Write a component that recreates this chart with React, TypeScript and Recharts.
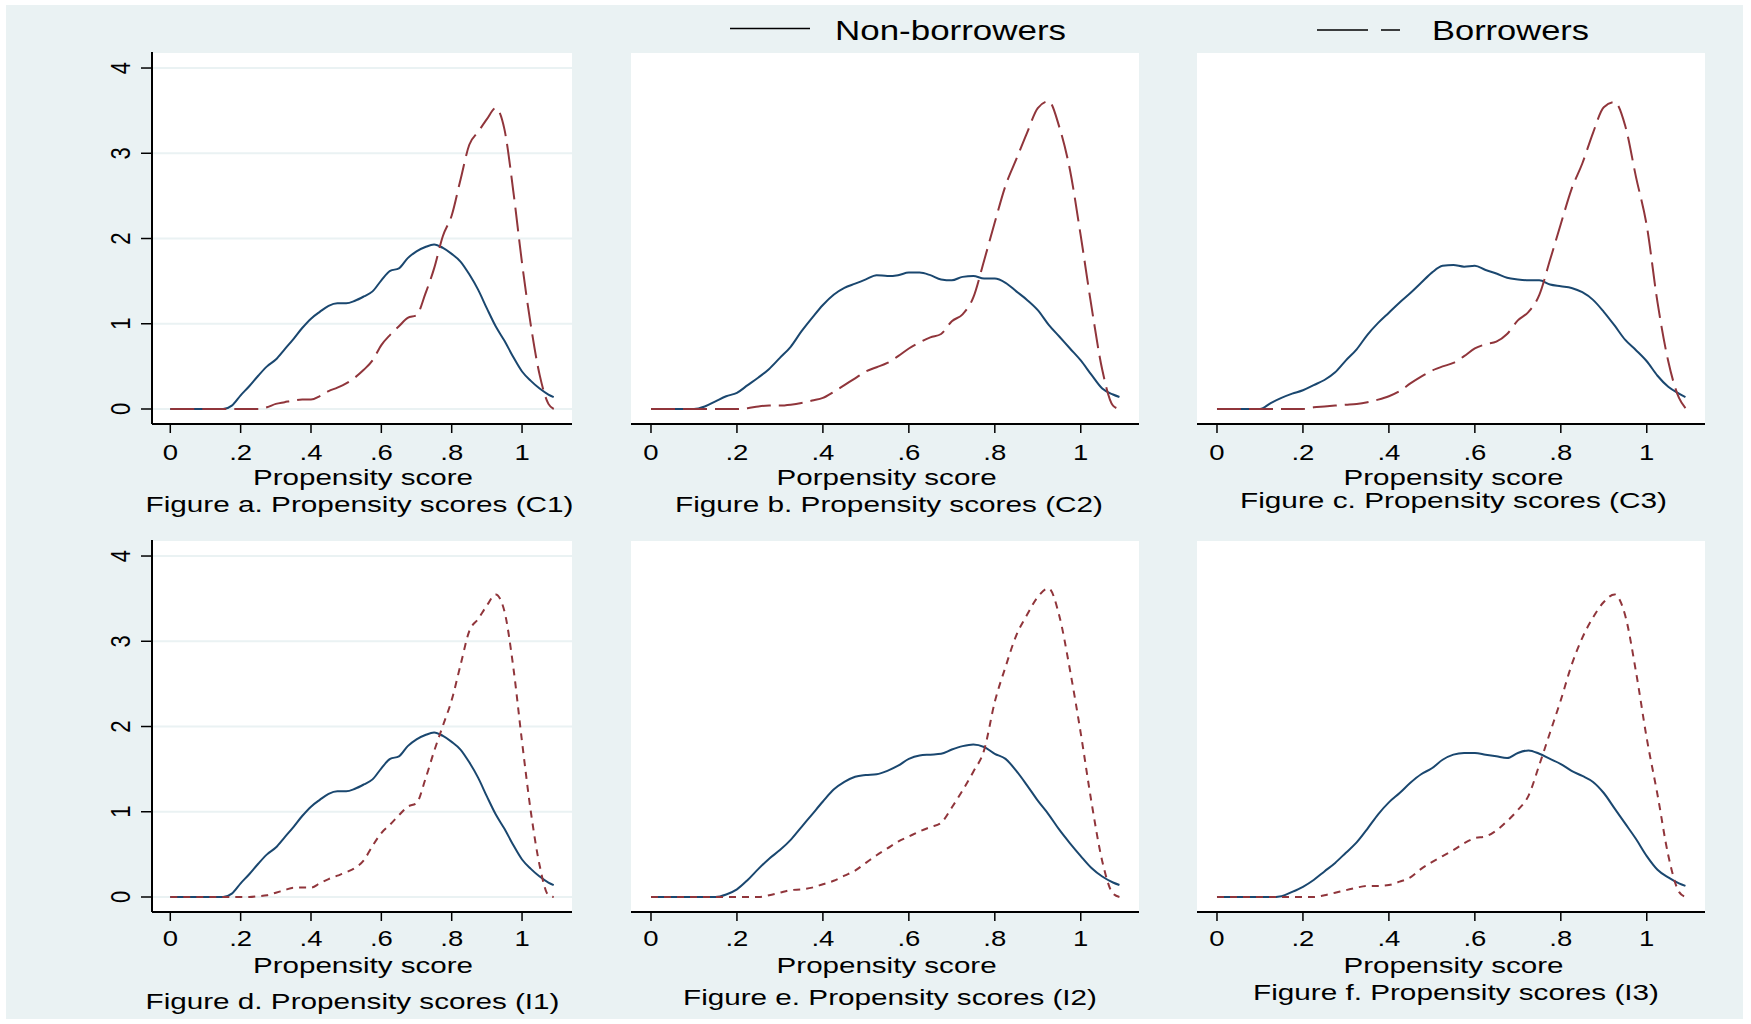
import React from 'react'
import { LineChart, Line, XAxis, YAxis, CartesianGrid } from 'recharts'

// common grid of propensity scores the densities were read at
const XS = [
  0, 0.025, 0.05, 0.075, 0.1, 0.125, 0.15, 0.175, 0.2, 0.225, 0.25, 0.275, 0.3, 0.325, 0.35,
  0.375, 0.4, 0.425, 0.45, 0.475, 0.5, 0.525, 0.55, 0.575, 0.6, 0.625, 0.65, 0.675, 0.7, 0.725,
  0.75, 0.775, 0.8, 0.825, 0.85, 0.875, 0.9, 0.925, 0.95, 0.975, 1, 1.025, 1.05, 1.075, 1.09,
]

// Figure a (C1)
const NON_C1 = [0, 0, 0, 0, 0, 0, 0, 0.04, 0.16, 0.27, 0.39, 0.5, 0.58, 0.7, 0.82, 0.95, 1.06, 1.14, 1.21, 1.24, 1.24, 1.27, 1.32, 1.38, 1.51, 1.62, 1.65, 1.77, 1.85, 1.9, 1.93, 1.89, 1.82, 1.73, 1.58, 1.4, 1.18, 0.97, 0.8, 0.61, 0.44, 0.33, 0.24, 0.17, 0.14]
const BOR_C1 = [0, 0, 0, 0, 0, 0, 0, 0, 0, 0, 0, 0.02, 0.06, 0.08, 0.1, 0.11, 0.11, 0.15, 0.21, 0.25, 0.3, 0.37, 0.46, 0.57, 0.75, 0.87, 0.97, 1.07, 1.1, 1.35, 1.65, 2.03, 2.27, 2.69, 3.1, 3.25, 3.4, 3.53, 3.28, 2.56, 1.71, 0.98, 0.4, 0.06, 0]

// Figure b (C2)
const NON_C2 = [0, 0, 0, 0, 0, 0.03, 0.09, 0.15, 0.19, 0.28, 0.37, 0.47, 0.6, 0.73, 0.91, 1.07, 1.22, 1.34, 1.42, 1.47, 1.52, 1.57, 1.56, 1.57, 1.6, 1.6, 1.57, 1.52, 1.51, 1.55, 1.56, 1.53, 1.53, 1.48, 1.38, 1.28, 1.16, 0.99, 0.85, 0.71, 0.57, 0.4, 0.24, 0.17, 0.14]
const BOR_C2 = [0, 0, 0, 0, 0, 0, 0, 0, 0, 0.01, 0.03, 0.04, 0.04, 0.05, 0.07, 0.1, 0.13, 0.2, 0.28, 0.36, 0.44, 0.49, 0.54, 0.62, 0.71, 0.78, 0.84, 0.88, 1.03, 1.11, 1.31, 1.74, 2.19, 2.62, 2.93, 3.24, 3.53, 3.61, 3.31, 2.8, 2.03, 1.2, 0.46, 0.04, 0]

// Figure c (C3)
const NON_C3 = [0, 0, 0, 0, 0, 0.07, 0.13, 0.18, 0.22, 0.28, 0.34, 0.43, 0.57, 0.7, 0.87, 1.01, 1.13, 1.25, 1.36, 1.48, 1.6, 1.68, 1.69, 1.67, 1.68, 1.63, 1.59, 1.54, 1.52, 1.51, 1.51, 1.46, 1.44, 1.42, 1.37, 1.28, 1.14, 0.98, 0.81, 0.69, 0.56, 0.39, 0.26, 0.18, 0.14]
const BOR_C3 = [0, 0, 0, 0, 0, 0, 0, 0, 0, 0.02, 0.03, 0.04, 0.05, 0.06, 0.08, 0.11, 0.15, 0.21, 0.3, 0.38, 0.45, 0.5, 0.54, 0.62, 0.71, 0.76, 0.79, 0.88, 1.04, 1.14, 1.34, 1.75, 2.17, 2.58, 2.88, 3.24, 3.54, 3.6, 3.32, 2.72, 2.15, 1.25, 0.56, 0.13, 0.01]

// Figure d (I1)
const NON_I1 = [0, 0, 0, 0, 0, 0, 0, 0.04, 0.16, 0.27, 0.39, 0.5, 0.58, 0.7, 0.82, 0.95, 1.06, 1.14, 1.21, 1.24, 1.24, 1.27, 1.32, 1.38, 1.51, 1.62, 1.65, 1.77, 1.85, 1.9, 1.93, 1.89, 1.82, 1.73, 1.58, 1.4, 1.18, 0.97, 0.8, 0.61, 0.44, 0.33, 0.24, 0.17, 0.14]
const BOR_I1 = [0, 0, 0, 0, 0, 0, 0, 0, 0, 0, 0.01, 0.02, 0.05, 0.08, 0.11, 0.11, 0.11, 0.16, 0.21, 0.25, 0.29, 0.34, 0.43, 0.6, 0.75, 0.85, 0.96, 1.06, 1.1, 1.38, 1.71, 2.01, 2.31, 2.72, 3.12, 3.26, 3.42, 3.55, 3.35, 2.7, 1.82, 1.0, 0.37, 0.02, 0]

// Figure e (I2)
const NON_I2 = [0, 0, 0, 0, 0, 0, 0, 0.03, 0.09, 0.2, 0.33, 0.45, 0.55, 0.67, 0.82, 0.97, 1.12, 1.26, 1.35, 1.41, 1.43, 1.44, 1.48, 1.54, 1.62, 1.66, 1.67, 1.68, 1.73, 1.77, 1.79, 1.76, 1.68, 1.62, 1.48, 1.31, 1.13, 0.97, 0.79, 0.63, 0.48, 0.34, 0.24, 0.17, 0.14]
const BOR_I2 = [0, 0, 0, 0, 0, 0, 0, 0, 0, 0, 0, 0.02, 0.05, 0.08, 0.09, 0.11, 0.15, 0.19, 0.25, 0.31, 0.4, 0.49, 0.57, 0.65, 0.71, 0.77, 0.82, 0.87, 1.05, 1.25, 1.47, 1.72, 2.29, 2.7, 3.07, 3.31, 3.52, 3.62, 3.3, 2.66, 1.92, 1.11, 0.42, 0.04, 0]

// Figure f (I3)
const NON_I3 = [0, 0, 0, 0, 0, 0, 0.01, 0.06, 0.12, 0.2, 0.3, 0.4, 0.52, 0.64, 0.8, 0.97, 1.11, 1.22, 1.34, 1.44, 1.51, 1.61, 1.67, 1.69, 1.69, 1.67, 1.65, 1.63, 1.69, 1.72, 1.68, 1.62, 1.56, 1.48, 1.42, 1.35, 1.22, 1.04, 0.86, 0.68, 0.48, 0.32, 0.23, 0.16, 0.13]
const BOR_I3 = [0, 0, 0, 0, 0, 0, 0, 0, 0, 0, 0.02, 0.05, 0.08, 0.11, 0.13, 0.13, 0.14, 0.18, 0.23, 0.33, 0.41, 0.48, 0.55, 0.63, 0.69, 0.71, 0.78, 0.89, 1.02, 1.19, 1.55, 1.93, 2.31, 2.72, 3.04, 3.28, 3.46, 3.55, 3.3, 2.64, 1.86, 1.2, 0.49, 0.06, 0]

const X_TICKS = [0, 0.2, 0.4, 0.6, 0.8, 1]
const X_TICK_LABELS = ['0', '.2', '.4', '.6', '.8', '1']
const Y_TICKS = [0, 1, 2, 3, 4]

const NAVY = '#1a476f'
const MAROON = '#90353b'
const BG = '#eaf2f3'
const FONT = '"Liberation Sans", Arial, Helvetica, sans-serif'
const SX = 1.25 // the original picture is stretched sideways
const TICK_FS = 22
const PLOT_H = 372
const AXIS_H = 60
const Y_DOMAIN = [-0.176, 4.188]
const LONG_DASH = '24 8'
const SHORT_DASH = '7 6'

const panels = [
  { id: 'a', non: NON_C1, bor: BOR_C1, left: 152, top: 52, w: 420, yAxis: true, domain: [-0.052, 1.142], dash: LONG_DASH, tickDy: 27 },
  { id: 'b', non: NON_C2, bor: BOR_C2, left: 631, top: 52, w: 508, yAxis: false, domain: [-0.0465, 1.1355], dash: LONG_DASH, tickDy: 27 },
  { id: 'c', non: NON_C3, bor: BOR_C3, left: 1197, top: 52, w: 508, yAxis: false, domain: [-0.0465, 1.1355], dash: LONG_DASH, tickDy: 27 },
  { id: 'd', non: NON_I1, bor: BOR_I1, left: 152, top: 540, w: 420, yAxis: true, domain: [-0.052, 1.142], dash: SHORT_DASH, tickDy: 25 },
  { id: 'e', non: NON_I2, bor: BOR_I2, left: 631, top: 540, w: 508, yAxis: false, domain: [-0.0465, 1.1355], dash: SHORT_DASH, tickDy: 25 },
  { id: 'f', non: NON_I3, bor: BOR_I3, left: 1197, top: 540, w: 508, yAxis: false, domain: [-0.0465, 1.1355], dash: SHORT_DASH, tickDy: 25 },
]

const titles = [
  { text: 'Propensity score', x: 363, y: 485 },
  { text: 'Porpensity score', x: 886.6, y: 485 },
  { text: 'Propensity score', x: 1453.5, y: 485 },
  { text: 'Propensity score', x: 363, y: 972.5 },
  { text: 'Propensity score', x: 886.6, y: 972.5 },
  { text: 'Propensity score', x: 1453.5, y: 972.5 },
]

const captions = [
  { text: 'Figure a. Propensity scores (C1)', x: 145.5, y: 512, len: 428 },
  { text: 'Figure b. Propensity scores (C2)', x: 675, y: 512, len: 428 },
  { text: 'Figure c. Propensity scores (C3)', x: 1240, y: 508, len: 427 },
  { text: 'Figure d. Propensity scores (I1)', x: 145.5, y: 1009, len: 414 },
  { text: 'Figure e. Propensity scores (I2)', x: 683, y: 1005, len: 414 },
  { text: 'Figure f. Propensity scores (I3)', x: 1253, y: 1000, len: 406 },
]

function XTick(props: any) {
  const { x, y, payload, dy } = props
  const i = X_TICKS.indexOf(payload.value)
  return (
    <text
      transform={`translate(${x},${y + dy}) scale(${SX},1)`}
      textAnchor="middle"
      fontSize={TICK_FS}
      fontFamily={FONT}
      fill="#000"
    >
      {i >= 0 ? X_TICK_LABELS[i] : payload.value}
    </text>
  )
}

function YTick(props: any) {
  const { x, y, payload } = props
  return (
    <text
      transform={`translate(${x - 11},${y}) scale(${SX},1) rotate(-90)`}
      textAnchor="middle"
      fontSize={TICK_FS}
      fontFamily={FONT}
      fill="#000"
    >
      {payload.value}
    </text>
  )
}

function Panel({ p }: { p: any }) {
  const data = XS.map((x, i) => ({ x, non: p.non[i], bor: p.bor[i] }))
  const yW = p.yAxis ? 60 : 0
  return (
    <div style={{ position: 'absolute', left: p.left - yW, top: p.top }}>
      <LineChart
        width={p.w + yW}
        height={PLOT_H + AXIS_H}
        data={data}
        margin={{ top: 0, right: 0, bottom: 0, left: 0 }}
      >
        <CartesianGrid vertical={false} stroke={BG} strokeWidth={2} fill="#ffffff" />
        <XAxis
          type="number"
          dataKey="x"
          domain={p.domain}
          allowDataOverflow
          ticks={X_TICKS}
          interval={0}
          height={AXIS_H}
          tickSize={9}
          tickMargin={0}
          axisLine={{ stroke: '#000', strokeWidth: 2 }}
          tickLine={{ stroke: '#000', strokeWidth: 1.5 }}
          tick={(tp: any) => <XTick {...tp} dy={p.tickDy} />}
        />
        {p.yAxis ? (
          <YAxis
            type="number"
            domain={Y_DOMAIN}
            allowDataOverflow
            ticks={Y_TICKS}
            interval={0}
            width={yW}
            tickSize={11}
            tickMargin={0}
            axisLine={{ stroke: '#000', strokeWidth: 2 }}
            tickLine={{ stroke: '#000', strokeWidth: 1.5 }}
            tick={(tp: any) => <YTick {...tp} />}
          />
        ) : (
          <YAxis
            type="number"
            domain={Y_DOMAIN}
            allowDataOverflow
            ticks={Y_TICKS}
            interval={0}
            width={0}
            axisLine={false}
            tickLine={false}
            tick={false}
          />
        )}
        <Line
          type="monotone"
          dataKey="non"
          stroke={NAVY}
          strokeWidth={2}
          dot={false}
          isAnimationActive={false}
        />
        <Line
          type="monotone"
          dataKey="bor"
          stroke={MAROON}
          strokeWidth={2}
          strokeDasharray={p.dash}
          dot={false}
          isAnimationActive={false}
        />
      </LineChart>
    </div>
  )
}

export default function App() {
  return (
    <div style={{ position: 'absolute', left: 0, top: 0, width: 1751, height: 1024, background: '#ffffff', overflow: 'hidden' }}>
      <div style={{ position: 'absolute', left: 6, top: 5, width: 1737, height: 1014, background: BG }} />
      {panels.map((p) => (
        <Panel key={p.id} p={p} />
      ))}
      <svg
        width={1751}
        height={1024}
        style={{ position: 'absolute', left: 0, top: 0, pointerEvents: 'none' }}
        fontFamily={FONT}
      >
        {/* legend */}
        <line x1={730} y1={28.5} x2={810} y2={28.5} stroke="#000" strokeWidth={1.5} />
        <text x={835} y={40} fontSize={28} textLength={231} lengthAdjust="spacingAndGlyphs" fill="#000">
          Non-borrowers
        </text>
        <line x1={1317} y1={30} x2={1368} y2={30} stroke="#000" strokeWidth={1.5} />
        <line x1={1381} y1={30} x2={1400} y2={30} stroke="#000" strokeWidth={1.5} />
        <text x={1432} y={40} fontSize={28} textLength={157} lengthAdjust="spacingAndGlyphs" fill="#000">
          Borrowers
        </text>

        {titles.map((t, i) => (
          <text
            key={`t${i}`}
            x={t.x}
            y={t.y}
            textAnchor="middle"
            fontSize={22}
            textLength={220}
            lengthAdjust="spacingAndGlyphs"
            fill="#000"
          >
            {t.text}
          </text>
        ))}
        {captions.map((c, i) => (
          <text
            key={`c${i}`}
            x={c.x}
            y={c.y}
            fontSize={22}
            textLength={c.len}
            lengthAdjust="spacingAndGlyphs"
            fill="#000"
          >
            {c.text}
          </text>
        ))}
      </svg>
    </div>
  )
}
